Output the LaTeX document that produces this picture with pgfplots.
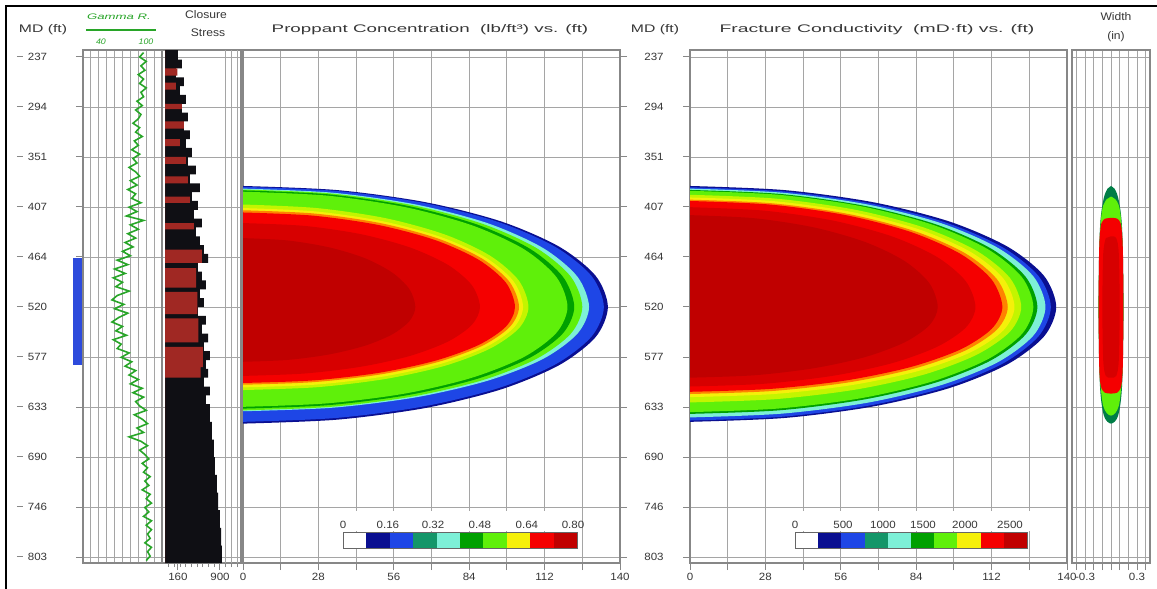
\documentclass[border=0pt]{standalone}
\usepackage{fontspec}
\setmainfont{Liberation Sans}[FakeStretch=1.1]
\usepackage{graphicx}
\usepackage{pgfplots}
\pgfplotsset{compat=1.18}

\definecolor{txt}{RGB}{55,55,55}
\definecolor{boxc}{RGB}{135,135,135}
\definecolor{gridc}{RGB}{165,165,165}
\definecolor{gam}{RGB}{40,165,40}
\definecolor{cDB}{RGB}{10,15,145}
\definecolor{cB}{RGB}{30,70,230}
\definecolor{cT}{RGB}{20,150,105}
\definecolor{cA}{RGB}{125,240,215}
\definecolor{cG}{RGB}{0,160,0}
\definecolor{cL}{RGB}{95,240,10}
\definecolor{cYG}{RGB}{195,245,0}
\definecolor{cY}{RGB}{245,240,10}
\definecolor{cO}{RGB}{255,130,0}
\definecolor{cR}{RGB}{245,0,0}
\definecolor{cMR}{RGB}{215,0,0}
\definecolor{cDR}{RGB}{192,0,0}
\definecolor{stR}{RGB}{160,40,35}
\definecolor{stK}{RGB}{15,15,20}
\definecolor{perf}{RGB}{45,75,220}
\definecolor{wG}{RGB}{0,125,70}

\newcommand\tdash{\textcolor{boxc}{\rule[3.2pt]{6pt}{1.2pt}}}
\newcommand\md[1]{\tdash\hspace{5pt}#1}
\newcommand\hf{\fontsize{11}{13}\selectfont}

\pgfplotsset{
  track/.style={
    scale only axis, anchor=south west, height=513pt,
    y dir=reverse, ymin=229.1, ymax=809.8,
    ytick={237,293.6,350.2,406.8,463.4,520,576.6,633.2,689.8,746.4,803},
    yticklabels={}, ymajorgrids,
    grid style={draw=gridc, line width=0.9pt},
    axis line style={draw=boxc, line width=2.2pt},
    tick style={draw=boxc, line width=1pt},
    tick align=outside, major tick length=7pt, minor tick length=4pt,
    xtick pos=left, ytick pos=left,
    tick label style={font=\fontsize{10.5}{12}\selectfont, text=txt},
  },
  cont/.style={draw=none, fill=#1, smooth},
  cbar/.style={scale only axis, anchor=south west, width=#1, height=16pt, axis on top,
    xmin=0, xmax=10, ymin=0, ymax=1, ytick=\empty, xticklabel pos=upper,
    tick style={draw=none}, axis line style={draw=gray!80!black, line width=0.8pt},
    xticklabel style={font=\fontsize{10.5}{12}\selectfont, text=txt}},
}

\begin{document}
\begin{tikzpicture}
\useasboundingbox (0,0) rectangle (1157pt,-589pt);
\fill[white] (0,0) rectangle (1157pt,-589pt);

% ---------------- Gamma ray track ----------------
\begin{axis}[track, at={(83pt,-563pt)}, width=79pt, xmin=40, xmax=100,
  xtick={46,52,58,64,70,76,82,88,94}, xticklabels={}, xmajorgrids,
  xtick style={draw=none},
  yticklabels={\md{237},\md{294},\md{351},\md{407},\md{464},\md{520},\md{577},\md{633},\md{690},\md{746},\md{803}},
  yticklabel style={anchor=center, xshift=-44pt}]
\addplot[gam, line width=1.6pt] coordinates {
(86,232)(83,237)(88,242)(84,247)(87,252)(82,257)(86,262)(83,267)(88,272)(84,277)
(86,282)(81,287)(85,292)(80,297)(84,302)(82,307)(78,312)(83,317)(80,322)(85,327)
(79,332)(82,337)(77,342)(83,347)(78,352)(81,357)(75,362)(80,367)(83,372)(76,377)
(81,382)(74,387)(80,392)(77,397)(84,402)(75,407)(81,412)(73,417)(86,422)(76,427)
(82,432)(74,437)(80,442)(72,447)(78,452)(70,457)(76,462)(66,467)(74,472)(64,477)
(72,482)(63,487)(70,492)(65,497)(75,502)(66,507)(62,512)(71,517)(64,522)(74,527)
(67,532)(62,537)(70,542)(65,547)(73,552)(63,557)(69,562)(66,567)(75,572)(69,577)
(77,582)(72,587)(80,592)(75,597)(82,602)(76,607)(85,612)(78,617)(86,622)(80,627)
(83,632)(88,637)(79,642)(85,647)(89,652)(81,657)(86,662)(75,667)(84,672)(89,677)
(83,682)(87,687)(90,692)(85,697)(89,702)(86,707)(91,712)(87,717)(90,722)(85,727)
(91,732)(88,737)(92,742)(87,747)(90,752)(86,757)(92,762)(88,767)(92,772)(89,777)
(91,782)(87,787)(92,792)(89,797)(91,802)(88,807)};
\end{axis}

% perforation interval
\begin{axis}[scale only axis, anchor=south west, at={(73pt,-563pt)}, width=9pt, height=513pt,
  xmin=0, xmax=1, y dir=reverse, ymin=229.1, ymax=809.8, hide axis]
\addplot[fill=perf, draw=none] coordinates {(0,464.6)(1,464.6)(1,585.6)(0,585.6)} --cycle;
\end{axis}

% ---------------- Closure stress track ----------------
\begin{axis}[track, at={(162pt,-563pt)}, width=79pt, xmin=-121, xmax=1270,
  xtick={160,900}, xticklabels={160,900},
  minor xtick={0,100,200,300,400,500,600,700,800,1000,1100,1200},
  extra x ticks={1000,1100,1200}, extra x tick labels={},
  extra x tick style={grid=major, major tick length=0pt},
  ytick style={draw=none}]
\addplot[fill=stK, draw=none, const plot] coordinates {
(-68,229.1)
(160,240)(230,250)(125,260)(266,270)(195,280)(301,290)(230,300)(336,310)(266,320)(371,330)
(301,340)(407,350)(336,360)(477,370)(371,380)(548,390)(407,400)(512,410)(442,420)(583,430)
(477,440)(548,450)(618,460)(689,470)(512,480)(583,490)(653,500)(548,510)(618,520)(512,530)
(653,540)(583,550)(689,560)(618,570)(724,580)(653,590)(689,600)(618,610)(724,620)(653,630)
(724,650)(759,670)(794,690)(812,710)(847,730)(865,750)(900,770)(918,790)(935,809.8)
(-68,809.8)} --cycle;
\addplot[fill=stR, draw=none, const plot] coordinates {
(-68,229.1)
(-68,250)(150,258)(-68,266)(125,274)(-68,290)(230,296)(-68,310)(266,318)(-68,330)(195,338)
(-68,350)(301,358)(-68,372)(336,380)(-68,395)(371,402)(-68,425)(442,432)(-68,455)(580,470)
(-68,476)(480,498)(-68,503)(500,528)(-68,533)(520,560)(-68,565)(600,588)(560,600)
(-68,809.8)} --cycle;
\end{axis}

% ---------------- Proppant concentration ----------------
\begin{axis}[track, at={(243pt,-563pt)}, width=377pt, xmin=0, xmax=140,
  xtick={0,14,...,140}, xticklabels={0,,28,,56,,84,,112,,140}, xmajorgrids,
  ytick pos=right]
\addplot[cont=cDB] coordinates {(0,383)(35.1,387.7)(67.8,401.4)(95.8,423.1)(117.3,451.5)(130.9,484.5)(135.5,520)(130.9,554.2)(117.3,586)(95.8,613.3)(67.8,634.3)(35.1,647.5)(0,652)} --cycle;
\addplot[cont=cB] coordinates {(0,384)(34.7,388.6)(67,402.2)(94.8,423.8)(116,452)(129.4,484.8)(134,520)(129.4,553.6)(116,585)(94.8,611.9)(67,632.6)(34.7,645.6)(0,650)} --cycle;
\addplot[cont=cA] coordinates {(0,386)(33.3,390.6)(64.3,404)(90.9,425.2)(111.3,453)(124.1,485.3)(128.5,520)(124.1,550.5)(111.3,579)(90.9,603.4)(64.3,622.2)(33.3,634)(0,638)} --cycle;
\addplot[cont=cL] coordinates {(0,387)(32.6,391.5)(63,404.8)(89.1,426)(109.1,453.5)(121.7,485.6)(126,520)(121.7,550.3)(109.1,578.5)(89.1,602.7)(63,621.3)(32.6,633)(0,637)} --cycle;
\addplot[cont=cG] coordinates {(0,388)(31.8,392.5)(61.5,405.7)(87,426.7)(106.5,454)(118.8,485.8)(123,520)(118.8,549.8)(106.5,577.5)(87,601.3)(61.5,619.6)(31.8,631.1)(0,635)} --cycle;
\addplot[cont=cL] coordinates {(0,389.5)(31.2,393.9)(60.3,407)(85.2,427.7)(104.4,454.7)(116.4,486.2)(120.5,520)(116.4,549.2)(104.4,576.5)(85.2,599.9)(60.3,617.9)(31.2,629.1)(0,633)} --cycle;
\addplot[cont=cYG] coordinates {(0,404)(27.4,408)(53,419.5)(75,438)(91.8,462)(102.4,490)(106,520)(102.4,544.3)(91.8,567)(75,586.5)(53,601.4)(27.4,610.8)(0,614)} --cycle;
\addplot[cont=cY] coordinates {(0,408)(26.9,411.8)(52,423)(73.5,440.8)(90.1,464)(100.5,491)(104,520)(100.5,543.6)(90.1,565.5)(73.5,584.3)(52,598.8)(26.9,607.9)(0,611)} --cycle;
\addplot[cont=cO] coordinates {(0,410.5)(26.5,414.2)(51.3,425.2)(72.5,442.6)(88.8,465.2)(99,491.7)(102.5,520)(99,542.8)(88.8,564)(72.5,582.2)(51.3,596.2)(26.5,605)(0,608)} --cycle;
\addplot[cont=cR] coordinates {(0,413)(26.1,416.6)(50.5,427.3)(71.4,444.3)(87.5,466.5)(97.6,492.3)(101,520)(97.6,542.3)(87.5,563)(71.4,580.8)(50.5,594.5)(26.1,603.1)(0,606)} --cycle;
\addplot[cont=cMR] coordinates {(0,425)(22.8,428.2)(44,437.7)(62.2,452.8)(76.2,472.5)(85,495.4)(88,520)(85,540.2)(76.2,559)(62.2,575.2)(44,587.5)(22.8,595.3)(0,598)} --cycle;
\addplot[cont=cDR] coordinates {(0,442)(16.6,444.7)(32,452.5)(45.3,464.8)(55.4,481)(61.8,499.8)(64,520)(61.8,536)(55.4,551)(45.3,563.8)(32,573.7)(16.6,579.9)(0,582)} --cycle;
\end{axis}
\fill[white] (338pt,-511pt) rectangle (582pt,-531pt);
\begin{axis}[cbar=234pt, at={(343pt,-548pt)},
  xtick={0,1.92,3.85,5.85,7.86,9.83}, xticklabels={0,0.16,0.32,0.48,0.64,0.80}]
\addplot[fill=white, draw=none] coordinates {(0,0)(1,0)(1,1)(0,1)} --cycle;
\addplot[fill=cDB, draw=none] coordinates {(1,0)(2,0)(2,1)(1,1)} --cycle;
\addplot[fill=cB, draw=none] coordinates {(2,0)(3,0)(3,1)(2,1)} --cycle;
\addplot[fill=cT, draw=none] coordinates {(3,0)(4,0)(4,1)(3,1)} --cycle;
\addplot[fill=cA, draw=none] coordinates {(4,0)(5,0)(5,1)(4,1)} --cycle;
\addplot[fill=cG, draw=none] coordinates {(5,0)(6,0)(6,1)(5,1)} --cycle;
\addplot[fill=cL, draw=none] coordinates {(6,0)(7,0)(7,1)(6,1)} --cycle;
\addplot[fill=cY, draw=none] coordinates {(7,0)(8,0)(8,1)(7,1)} --cycle;
\addplot[fill=cR, draw=none] coordinates {(8,0)(9,0)(9,1)(8,1)} --cycle;
\addplot[fill=cDR, draw=none] coordinates {(9,0)(10,0)(10,1)(9,1)} --cycle;
\end{axis}

% ---------------- Fracture conductivity ----------------
\begin{axis}[track, at={(690pt,-563pt)}, width=377pt, xmin=0, xmax=140,
  xtick={0,14,...,140}, xticklabels={0,,28,,56,,84,,112,,140}, xmajorgrids,
  yticklabels={237,294,351,407,464,520,577,633,690,746,803},
  yticklabel style={anchor=center, xshift=-29pt}]
\addplot[cont=cDB] coordinates {(0,383)(35.2,387.7)(68,401.4)(96.2,423.1)(117.8,451.5)(131.4,484.5)(136,520)(131.4,553.6)(117.8,585)(96.2,611.9)(68,632.6)(35.2,645.6)(0,650)} --cycle;
\addplot[cont=cB] coordinates {(0,384.5)(34.7,389.1)(67,402.7)(94.8,424.2)(116,452.2)(129.4,484.9)(134,520)(129.4,553.3)(116,584.3)(94.8,610.9)(67,631.3)(34.7,644.1)(0,648.5)} --cycle;
\addplot[cont=cA] coordinates {(0,386)(34.2,390.6)(66,404)(93.3,425.2)(114.3,453)(127.5,485.3)(132,520)(127.5,552.4)(114.3,582.5)(93.3,608.4)(66,628.3)(34.2,640.7)(0,645)} --cycle;
\addplot[cont=cG] coordinates {(0,387.5)(33.4,392)(64.5,405.3)(91.2,426.3)(111.7,453.7)(124.6,485.7)(129,520)(124.6,551.3)(111.7,580.5)(91.2,605.6)(64.5,624.8)(33.4,636.9)(0,641)} --cycle;
\addplot[cont=cL] coordinates {(0,388.5)(33,393)(63.8,406.1)(90.2,427)(110.4,454.2)(123.2,486)(127.5,520)(123.2,550.8)(110.4,579.5)(90.2,604.1)(63.8,623.1)(33,634.9)(0,639)} --cycle;
\addplot[cont=cYG] coordinates {(0,393)(31.8,397.3)(61.5,410)(87,430.2)(106.5,456.5)(118.8,487.1)(123,520)(118.8,548)(106.5,574)(87,596.4)(61.5,613.5)(31.8,624.3)(0,628)} --cycle;
\addplot[cont=cY] coordinates {(0,396)(31.2,400.2)(60.3,412.6)(85.2,432.3)(104.4,458)(116.4,487.9)(120.5,520)(116.4,546.4)(104.4,571)(85.2,592.1)(60.3,608.3)(31.2,618.5)(0,622)} --cycle;
\addplot[cont=cO] coordinates {(0,398.5)(30.5,402.6)(59,414.8)(83.4,434.1)(102.2,459.2)(114,488.6)(118,520)(114,545.5)(102.2,569.3)(83.4,589.6)(59,605.3)(30.5,615.1)(0,618.5)} --cycle;
\addplot[cont=cR] coordinates {(0,400)(30,404.1)(58,416.1)(82,435.1)(100.5,460)(112,488.9)(116,520)(112,544.8)(100.5,568)(82,587.9)(58,603.1)(30,612.7)(0,616)} --cycle;
\addplot[cont=cMR] coordinates {(0,407)(27.4,410.9)(53,422.1)(75,440.1)(91.8,463.5)(102.4,490.8)(106,520)(102.4,543.3)(91.8,565)(75,583.6)(53,597.9)(27.4,606.9)(0,610)} --cycle;
\addplot[cont=cDR] coordinates {(0,416)(23.8,419.5)(46,429.9)(65.1,446.5)(79.7,468)(88.9,493.1)(92,520)(88.9,540.7)(79.7,560)(65.1,576.6)(46,589.3)(23.8,597.3)(0,600)} --cycle;
\end{axis}
\fill[white] (790pt,-511pt) rectangle (1032pt,-531pt);
\begin{axis}[cbar=232pt, at={(795pt,-548pt)},
  xtick={0,2.07,3.79,5.52,7.33,9.27}, xticklabels={0,500,1000,1500,2000,2500}]
\addplot[fill=white, draw=none] coordinates {(0,0)(1,0)(1,1)(0,1)} --cycle;
\addplot[fill=cDB, draw=none] coordinates {(1,0)(2,0)(2,1)(1,1)} --cycle;
\addplot[fill=cB, draw=none] coordinates {(2,0)(3,0)(3,1)(2,1)} --cycle;
\addplot[fill=cT, draw=none] coordinates {(3,0)(4,0)(4,1)(3,1)} --cycle;
\addplot[fill=cA, draw=none] coordinates {(4,0)(5,0)(5,1)(4,1)} --cycle;
\addplot[fill=cG, draw=none] coordinates {(5,0)(6,0)(6,1)(5,1)} --cycle;
\addplot[fill=cL, draw=none] coordinates {(6,0)(7,0)(7,1)(6,1)} --cycle;
\addplot[fill=cY, draw=none] coordinates {(7,0)(8,0)(8,1)(7,1)} --cycle;
\addplot[fill=cR, draw=none] coordinates {(8,0)(9,0)(9,1)(8,1)} --cycle;
\addplot[fill=cDR, draw=none] coordinates {(9,0)(10,0)(10,1)(9,1)} --cycle;
\end{axis}

% ---------------- Width track ----------------
\begin{axis}[track, at={(1072pt,-563pt)}, width=78pt, xmin=-0.45, xmax=0.45,
  xtick={-0.4,-0.3,-0.2,-0.1,0,0.1,0.2,0.3,0.4}, xticklabels={,{-0.3},,,,,,{0.3},},
  xmajorgrids, ytick style={draw=none}]
\addplot[cont=wG] coordinates {(0,383)(0.04,386)(0.07,392)(0.095,402)(0.12,420)(0.135,450)(0.145,520)(0.135,590)(0.12,620)(0.095,638)(0.07,646)(0.04,650)(0,652)(-0.04,650)(-0.07,646)(-0.095,638)(-0.12,620)(-0.135,590)(-0.145,520)(-0.135,450)(-0.12,420)(-0.095,402)(-0.07,392)(-0.04,386)} --cycle;
\addplot[cont=cL] coordinates {(0,395)(0.05,398)(0.09,405)(0.115,420)(0.132,450)(0.142,520)(0.132,590)(0.115,615)(0.09,632)(0.05,640)(0,643)(-0.05,640)(-0.09,632)(-0.115,615)(-0.132,590)(-0.142,520)(-0.132,450)(-0.115,420)(-0.09,405)(-0.05,398)} --cycle;
\addplot[cont=cR] coordinates {(0,419)(0.07,420)(0.11,425)(0.13,440)(0.14,470)(0.142,520)(0.14,570)(0.13,600)(0.11,612)(0.07,617)(0,618)(-0.07,617)(-0.11,612)(-0.13,600)(-0.14,570)(-0.142,520)(-0.14,470)(-0.13,440)(-0.11,425)(-0.07,420)} --cycle;
\addplot[cont=cMR] coordinates {(0,440)(0.06,442)(0.09,460)(0.1,520)(0.09,580)(0.06,598)(0,600)(-0.06,598)(-0.09,580)(-0.1,520)(-0.09,460)(-0.06,442)} --cycle;
\end{axis}

% ---------------- headers ----------------
\begin{scope}[every node/.style={text=txt, inner sep=0pt}]
\node at (43pt,-30pt) {\hf\scalebox{1.3}[1]{MD (ft)}};
\node at (655pt,-30pt) {\hf\scalebox{1.3}[1]{MD (ft)}};
\node[text=gam] at (119pt,-17pt) {\fontsize{8}{9}\selectfont\itshape\scalebox{1.5}[1]{Gamma R.}};
\node[text=gam] at (101pt,-42pt) {\fontsize{8}{9}\selectfont\itshape 40};
\node[text=gam] at (146pt,-42pt) {\fontsize{8}{9}\selectfont\itshape 100};
\node at (206pt,-15pt) {\hf Closure};
\node at (208pt,-33pt) {\hf Stress};
\node at (430pt,-30pt) {\hf\scalebox{1.55}[1]{Proppant Concentration\ \ (lb/ft³) vs. (ft)}};
\node at (877pt,-30pt) {\hf\scalebox{1.6}[1]{Fracture Conductivity\ \ (mD·ft) vs. (ft)}};
\node at (1116pt,-17pt) {\hf Width};
\node at (1116pt,-37pt) {\hf (in)};
\end{scope}
\draw[gam, line width=1.8pt] (86pt,-30pt) -- (156pt,-30pt);
\draw[black, line width=1.6pt] (6pt,-589pt) -- (6pt,-6pt) -- (1157pt,-6pt);
\end{tikzpicture}
\end{document}
